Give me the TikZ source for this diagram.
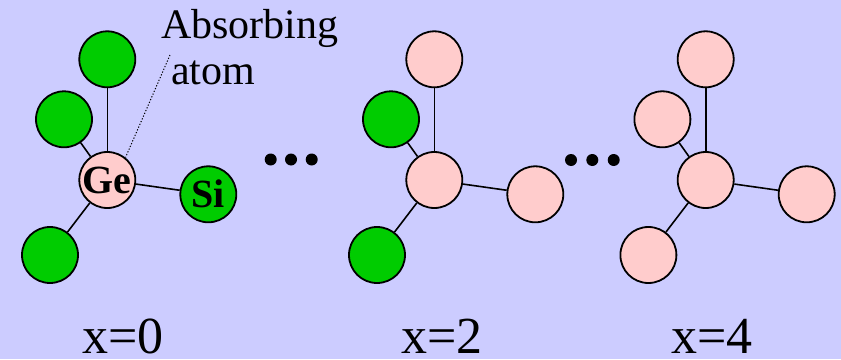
\documentclass[tikz,border=0pt]{standalone}
\usepackage{fontspec}
\setmainfont{Liberation Serif}
\usetikzlibrary{positioning}
\definecolor{AtomGreen}{HTML}{00CC00}
\definecolor{AtomPink}{HTML}{FFCCCC}
\definecolor{SlideBlue}{HTML}{CCCCFF}

\begin{document}
\begin{tikzpicture}[
  x=1pt,y=-1pt,
  on grid,
  atom/.style={circle,draw=black,line width=1.8pt,minimum size=56pt,inner sep=0pt,font=\fontsize{40}{40}\selectfont\bfseries},
  siatom/.style={atom,fill=AtomGreen},
  geatom/.style={atom,fill=AtomPink},
  bond/.style={line width=1.6pt},
  ellipsisdot/.style={circle,fill=black,minimum size=12pt,inner sep=0pt},
  caption/.style={anchor=base,inner sep=0pt,font=\fontsize{52}{52}\selectfont}
]
\fill[SlideBlue] (0,0) rectangle (841,359);

% x=0
\node[geatom] (c0) at (107.3,180) {Ge};
\node[siatom,above=120.7pt of c0] (a0) {};
\node[siatom,above left=60.7pt and 43.3pt of c0] (b0) {};
\node[siatom,below right=14.3pt and 101pt of c0] (r0) {Si};
\node[siatom,below left=75pt and 57.3pt of c0] (d0) {};

% x=2
\node[geatom] (c2) at (434.3,180) {};
\node[geatom,above=120.7pt of c2] (a2) {};
\node[siatom,above left=60.7pt and 43.3pt of c2] (b2) {};
\node[geatom,below right=14.3pt and 101pt of c2] (r2) {};
\node[siatom,below left=75pt and 57.3pt of c2] (d2) {};

% x=4
\node[geatom] (c4) at (705.7,180) {};
\node[geatom,above=120.7pt of c4] (a4) {};
\node[geatom,above left=60.7pt and 43.3pt of c4] (b4) {};
\node[geatom,below right=14.3pt and 101pt of c4] (r4) {};
\node[geatom,below left=75pt and 57.3pt of c4] (d4) {};

\foreach \m in {0,2,4}
  \foreach \n in {a,b,r,d}
    \draw[bond] (c\m) -- (\n\m);

\foreach \x [count=\i] in {270.7,291,311.7}
  \node[ellipsisdot] (dl\i) at (\x,159.5) {};
\foreach \x [count=\i] in {571,592.3,613.7}
  \node[ellipsisdot] (dr\i) at (\x,160) {};

% absorbing atom label
\node[anchor=north west,inner sep=0pt,align=left,font=\fontsize{42}{46}\selectfont] (lbl) at (161,9.5) {Absorbing\\\hspace*{10pt}atom};
\coordinate (tip) at (170,55);
\draw[line width=1pt,dash pattern=on 1.2pt off 1.8pt] (tip) -- (c0.51);

\node[caption] (x0) at (123,353) {x=0};
\node[caption] (x2) at (441.7,353) {x=2};
\node[caption] (x4) at (712.2,353) {x=4};
\end{tikzpicture}
\end{document}
